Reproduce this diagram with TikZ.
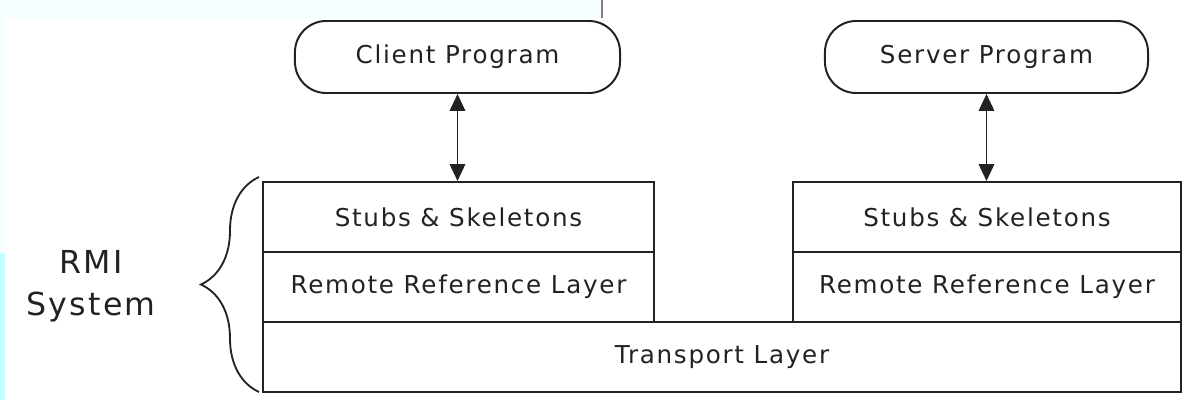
\documentclass[tikz,border=0pt]{standalone}
\usepackage{fontspec}
\setmainfont{DejaVu Sans}[LetterSpace=7]
\usepackage{tikz}
\usetikzlibrary{arrows.meta,decorations.pathreplacing}
\definecolor{cink}{HTML}{222222}
\definecolor{cpale}{HTML}{F5FFFF}
\definecolor{ccyan}{HTML}{C2FFFF}

\begin{document}
\begin{tikzpicture}[
    x=0.025cm, y=-0.025cm,
    >={Triangle[length=12pt, width=11pt]},
    link/.style={<->, line width=1.3pt, draw=cink},
    prog/.style={draw=cink, line width=1.4pt, rounded corners=0.78cm,
                 minimum height=1.8cm, text=cink, font=\fontsize{17.5}{20}\selectfont},
    layer/.style={draw=cink, line width=1.4pt, minimum height=1.75cm,
                  text=cink, font=\fontsize{17.5}{20}\selectfont},
    lbl/.style={align=center, text=cink, font=\fontsize{22.5}{30}\selectfont},
  ]
  \useasboundingbox (0,0) rectangle (1193,400);
  % screenshot edges
  \fill[cpale] (0,0) rectangle (602,18);
  \fill[cpale] (0,18) rectangle (5,253);
  \fill[ccyan] (0,253) rectangle (5,400);
  \draw[gray, line width=0.8pt] (602,0) -- (602,18);

  \node[prog, minimum width=8.125cm] (client) at (457.5,57) {Client Program};
  \node[prog, minimum width=8.075cm] (server) at (986.5,57) {Server Program};

  \node[layer, minimum width=9.775cm] (cstub) at (458.5,217) {Stubs \& Skeletons};
  \node[layer, minimum width=9.775cm] (cref) at (458.5,287) {Remote Reference Layer};
  \node[layer, minimum width=9.7cm] (sstub) at (987,217) {Stubs \& Skeletons};
  \node[layer, minimum width=9.7cm] (sref) at (987,287) {Remote Reference Layer};
  \node[layer, minimum width=22.95cm] (trans) at (722,357) {Transport Layer};

  \draw[link] (client.south) -- (client.south |- cstub.north);
  \draw[link] (server.south) -- (server.south |- sstub.north);

  % brace round the whole stack
  \coordinate (bbot) at (259,392);
  \coordinate (btop) at (259,177);
  \draw[line width=1.3pt, draw=cink, decorate, decoration={brace, amplitude=1.45cm}]
    (bbot) -- (btop);
  \node[lbl] (rmi) at (91,286) {RMI\\System};
\end{tikzpicture}
\end{document}
